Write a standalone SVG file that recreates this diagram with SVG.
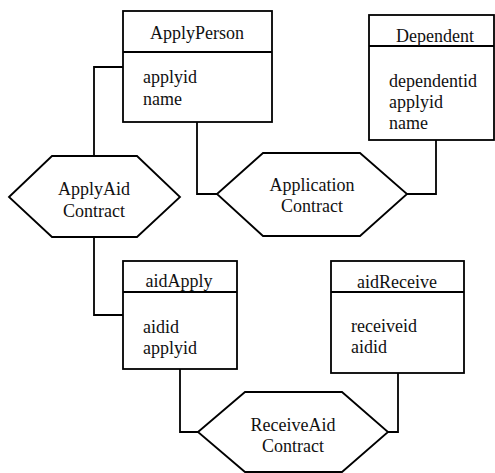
<svg xmlns="http://www.w3.org/2000/svg" width="495" height="473" viewBox="0 0 495 473">
  <style>
    .box { fill: #fff; stroke: #000; stroke-width: 1.8; }
    .rel { fill: #fff; stroke: #000; stroke-width: 1.8; stroke-linejoin: miter; }
    .line { fill: none; stroke: #000; stroke-width: 1.8; }
    text { font-family: "Liberation Serif", "Times New Roman", serif; font-size: 18px; fill: #111; }
    .c { text-anchor: middle; }
  </style>
  <rect width="495" height="473" fill="#fff"/>

  <!-- connectors -->
  <g id="connectors">
    <path class="line" d="M123,67 H94 V156"/>
    <path class="line" d="M94,237 V315 H123"/>
    <path class="line" d="M197,122 V194 H217"/>
    <path class="line" d="M436,140 V194 H407"/>
    <path class="line" d="M180,369 V432 H198"/>
    <path class="line" d="M398,373 V432 H388"/>
  </g>

  <!-- entities -->
  <g id="ApplyPerson">
    <rect class="box" x="123" y="11" width="149" height="111"/>
    <line class="line" x1="123" y1="52" x2="272" y2="52"/>
    <text class="c" x="197" y="39">ApplyPerson</text>
    <text x="143" y="83">applyid</text>
    <text x="143" y="105">name</text>
  </g>

  <g id="Dependent">
    <rect class="box" x="369" y="15" width="125" height="125"/>
    <line class="line" x1="369" y1="46" x2="494" y2="46"/>
    <text class="c" x="435" y="42">Dependent</text>
    <text x="389" y="87">dependentid</text>
    <text x="389" y="108">applyid</text>
    <text x="389" y="129">name</text>
  </g>

  <g id="aidApply">
    <rect class="box" x="123" y="261" width="114" height="108"/>
    <line class="line" x1="123" y1="292" x2="237" y2="292"/>
    <text class="c" x="179" y="287">aidApply</text>
    <text x="143" y="333">aidid</text>
    <text x="143" y="354">applyid</text>
  </g>

  <g id="aidReceive">
    <rect class="box" x="331" y="261" width="133" height="112"/>
    <line class="line" x1="331" y1="292" x2="464" y2="292"/>
    <text class="c" x="397" y="288">aidReceive</text>
    <text x="351" y="332">receiveid</text>
    <text x="351" y="353">aidid</text>
  </g>

  <!-- relationships -->
  <g id="ApplyAidContract">
    <polygon class="rel" points="9,197 52,156 137,156 180,197 137,237 52,237"/>
    <text class="c" x="94" y="195">ApplyAid</text>
    <text class="c" x="94" y="217">Contract</text>
  </g>

  <g id="ApplicationContract">
    <polygon class="rel" points="217,194 263,153 360,153 407,194 360,236 263,236"/>
    <text class="c" x="312" y="191">Application</text>
    <text class="c" x="312" y="212">Contract</text>
  </g>

  <g id="ReceiveAidContract">
    <polygon class="rel" points="198,432 245,392 342,392 388,432 342,472 245,472"/>
    <text class="c" x="293" y="431">ReceiveAid</text>
    <text class="c" x="293" y="452">Contract</text>
  </g>
</svg>
